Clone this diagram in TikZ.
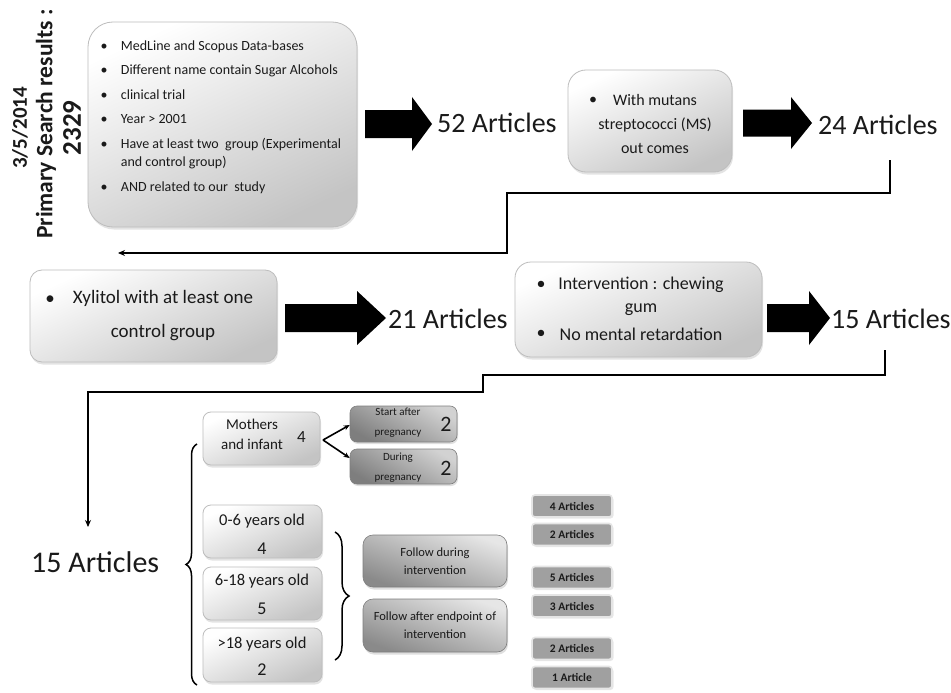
\documentclass[tikz,border=0pt]{standalone}
\usepackage{fontspec}
\setmainfont{Carlito}
\usetikzlibrary{arrows.meta,shadows,decorations.pathreplacing}
\definecolor{bordergrey}{HTML}{BDBDBD}
\definecolor{lightend}{HTML}{C4C4C4}
\definecolor{darkA}{HTML}{D2D2D2}
\definecolor{darkB}{HTML}{7E7E7E}
\definecolor{followA}{HTML}{E6E6E6}
\definecolor{followB}{HTML}{8A8A8A}
\definecolor{artgrey}{HTML}{A0A0A0}
\definecolor{ink}{HTML}{1A1A1A}
\newcommand{\fatarrow}[6]{%
  \fill[black] (#1,#4-#5) -- (#2,#4-#5) -- (#2,#4-#6) -- (#3,#4) -- (#2,#4+#6) -- (#2,#4+#5) -- (#1,#4+#5) -- cycle;}
\begin{document}
\begin{tikzpicture}[x=1pt,y=-1pt,
  every node/.style={text=ink},
  lightbox/.style={draw=bordergrey, line width=0.8pt, top color=white, bottom color=lightend, shading angle=25,
    drop shadow={shadow xshift=1pt, shadow yshift=-2.5pt, opacity=0.22}, inner sep=0pt},
  darkbox/.style={draw=darkB, line width=0.6pt, top color=darkA, bottom color=darkB, shading angle=-30,
    rounded corners=7pt, drop shadow={shadow xshift=1pt, shadow yshift=-2pt, opacity=0.25}, inner sep=0pt},
  followbox/.style={draw=darkB, line width=0.6pt, top color=followA, bottom color=followB, shading angle=-20,
    rounded corners=10pt, drop shadow={shadow xshift=1pt, shadow yshift=-2.5pt, opacity=0.25}, inner sep=0pt,
    align=center, font=\fontsize{12.5}{18}\selectfont},
  artbox/.style={draw=white!90!black, line width=1.6pt, fill=artgrey, rounded corners=3pt, inner sep=0pt,
    minimum width=80pt, minimum height=22pt, font=\bfseries\fontsize{11.5}{13}\selectfont,
    drop shadow={shadow xshift=1.5pt, shadow yshift=-1.5pt, opacity=0.18}},
  big/.style={font=\fontsize{28}{34}\selectfont, anchor=base west, inner sep=0pt},
  l1/.style={font=\fontsize{14}{17}\selectfont, anchor=base west, inner sep=0pt},
  b1/.style={font=\fontsize{14}{17}\selectfont, anchor=base, inner sep=0pt},
  conn/.style={line width=1.8pt, -{Stealth[length=7pt,width=6pt]}},
  bracestyle/.style={line width=1.5pt, decorate},
  smallarr/.style={line width=1.6pt, -{Stealth[length=6pt,width=5pt]}}
]
\useasboundingbox[fill=white] (0,0) rectangle (951,693);

% rotated title
\node[rotate=90, font=\bfseries\fontsize{21}{25}\selectfont] (date) at (20,128) {3/5/2014};
\node[rotate=90, font=\bfseries\fontsize{23.5}{28}\selectfont] (prim) at (46,124) {Primary Search results :};
\node[rotate=90, font=\bfseries\fontsize{27}{30}\selectfont] (total) at (72,128) {2329};

% box 1
\node[lightbox, rounded corners=25pt, minimum width=269pt, minimum height=205pt] (box1) at (222.5,124.5) {};
\node[b1] (bu1) at (104,50.7) {\textbullet};
\node[l1] (tx1) at (120.7,50.7) {MedLine and Scopus Data-bases};
\node[b1] (bu2) at (104,75) {\textbullet};
\node[l1] (tx2) at (120.7,75) {Different name contain Sugar Alcohols};
\node[b1] (bu3) at (104,99.3) {\textbullet};
\node[l1] (tx3) at (120.7,99.3) {clinical trial};
\node[b1] (bu4) at (104,124) {\textbullet};
\node[l1] (tx4) at (120.7,124) {Year > 2001};
\node[b1] (bu5) at (104,148.3) {\textbullet};
\node[l1] (tx5) at (120.7,148.3) {Have at least two\ \ group (Experimental};
\node[l1] (tx5b) at (120.7,166.7) {and control group)};
\node[b1] (bu6) at (104,191.7) {\textbullet};
\node[l1] (tx6) at (120.7,191.7) {AND related to our\ \ study};

\fatarrow{365}{412}{432}{124}{14}{27}
\node[big] (n52) at (437,132) {52 Articles};

% box 2
\node[lightbox, rounded corners=18pt, minimum width=164pt, minimum height=102pt] (box2) at (650,121) {};
\node[font=\fontsize{16}{24}\selectfont, align=center, inner sep=0pt] (tx7) at (655,124) {With mutans\\streptococci (MS)\\out comes};
\node[font=\fontsize{16}{24}\selectfont, inner sep=0pt] (bu7) at (593,101) {\textbullet};

\fatarrow{743}{791}{812}{123}{13.5}{26}
\node[big] (n24) at (818,135) {24 Articles};

% connector 1
\coordinate (c1a) at (890,160);
\coordinate (c1m) at (507,193);
\coordinate (c1b) at (118,253);
\draw[conn] (c1a) |- (c1m) |- (c1b);

% row 2
\node[lightbox, rounded corners=12pt, minimum width=247pt, minimum height=92pt] (box3) at (153.5,316) {};
\node[font=\fontsize{19}{34}\selectfont, align=center, inner sep=0pt] (tx8) at (163,316) {Xylitol with at least one\\control group};
\node[font=\fontsize{19}{34}\selectfont, inner sep=0pt] (bu8) at (50,300) {\textbullet};

\fatarrow{285}{357}{386}{318}{14}{27}
\node[big] (n21) at (388,328) {21 Articles};

\node[lightbox, rounded corners=16pt, minimum width=247pt, minimum height=95pt] (box4) at (638.5,309.5) {};
\node[font=\fontsize{18}{23}\selectfont, align=center, inner sep=0pt] (tx9) at (641,296.5) {Intervention : chewing\\gum};
\node[font=\fontsize{18}{23}\selectfont, inner sep=0pt] (bu9) at (541,285) {\textbullet};
\node[font=\fontsize{18}{23}\selectfont, inner sep=0pt] (tx10) at (641,334) {No mental retardation};
\node[font=\fontsize{18}{23}\selectfont, inner sep=0pt] (bu10) at (541,334) {\textbullet};

\fatarrow{767}{809}{830}{318}{14}{27}
\node[big] (n15a) at (831,328) {15 Articles};

% connector 2
\coordinate (c2a) at (885,350);
\coordinate (c2m) at (483,375);
\coordinate (c2n) at (88,392);
\coordinate (c2b) at (88,527);
\draw[conn] (c2a) |- (c2m) |- (c2n) -- (c2b);

\node[font=\fontsize{30}{36}\selectfont, anchor=base west, inner sep=0pt] (n15b) at (31,572) {15 Articles};

% left brace
\draw[bracestyle, decoration={brace, amplitude=11pt}] (197,685) -- (197,444);

% mothers and infants
\node[lightbox, rounded corners=8pt, minimum width=117pt, minimum height=53pt] (moth) at (261.5,438.5) {};
\node[font=\fontsize{15}{20}\selectfont, align=center, inner sep=0pt] (mothtx) at (252,434) {Mothers\\and infant};
\node[font=\fontsize{17}{20}\selectfont, inner sep=0pt] (mothn) at (301.5,437) {4};

\node[darkbox, minimum width=107pt, minimum height=36pt] (start) at (403.5,424) {};
\node[font=\fontsize{11}{20}\selectfont, align=center, inner sep=0pt] (starttx) at (398,423) {Start after\\pregnancy};
\node[font=\fontsize{22}{24}\selectfont, inner sep=0pt] (startn) at (446,424) {2};
\node[darkbox, minimum width=107pt, minimum height=35pt] (during) at (403.5,466.5) {};
\node[font=\fontsize{11}{20}\selectfont, align=center, inner sep=0pt] (duringtx) at (398,467.5) {During\\pregnancy};
\node[font=\fontsize{22}{24}\selectfont, inner sep=0pt] (duringn) at (446,468) {2};

\coordinate (fork) at (323,440);
\draw[smallarr] (fork) -- (start.west |- 0,425);
\draw[smallarr] (fork) -- (during.west |- 0,458);

% age groups
\node[lightbox, rounded corners=8pt, minimum width=119pt, minimum height=53pt] (age1) at (262.5,531.5) {};
\node[font=\fontsize{16.5}{20}\selectfont, inner sep=0pt] (age1tx) at (262,521) {0-6 years old};
\node[font=\fontsize{18}{20}\selectfont, inner sep=0pt] (age1n) at (262,549) {4};
\node[lightbox, rounded corners=8pt, minimum width=119pt, minimum height=53pt] (age2) at (262.5,593.5) {};
\node[font=\fontsize{16.5}{20}\selectfont, inner sep=0pt] (age2tx) at (262,581) {6-18 years old};
\node[font=\fontsize{18}{20}\selectfont, inner sep=0pt] (age2n) at (262,609) {5};
\node[lightbox, rounded corners=8pt, minimum width=119pt, minimum height=54pt] (age3) at (262.5,655) {};
\node[font=\fontsize{16.5}{20}\selectfont, inner sep=0pt] (age3tx) at (262,644) {>18 years old};
\node[font=\fontsize{18}{20}\selectfont, inner sep=0pt] (age3n) at (262,670) {2};

% right brace
\draw[bracestyle, decoration={brace, amplitude=14pt}] (335,532) -- (335,660);

% follow boxes
\node[followbox, minimum width=144pt, minimum height=52pt] (fdur) at (435,561) {Follow during\\intervention};
\node[followbox, minimum width=144pt, minimum height=53pt] (faft) at (435,625.5) {Follow after endpoint of\\intervention};

% article boxes
\node[artbox] (a1) at (572,506) {4 Articles};
\node[artbox] (a2) at (572,534.5) {2 Articles};
\node[artbox] (a3) at (572,577.5) {5 Articles};
\node[artbox] (a4) at (572,606) {3 Articles};
\node[artbox] (a5) at (572,648.5) {2 Articles};
\node[artbox] (a6) at (572,677.5) {1 Article};
\end{tikzpicture}
\end{document}
